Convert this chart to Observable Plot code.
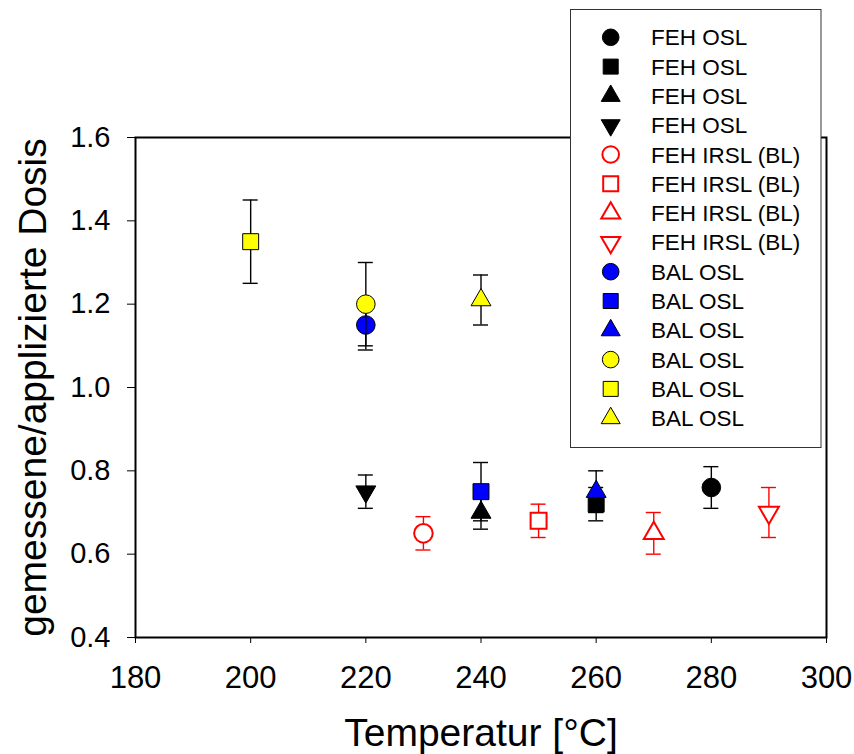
<!DOCTYPE html>
<html><head><meta charset="utf-8">
<script src="https://cdn.jsdelivr.net/npm/d3@7"></script>
<script src="https://cdn.jsdelivr.net/npm/@observablehq/plot@0.6"></script>
<style>
body{margin:0;background:#fff;}
#wrap{position:relative;width:854px;height:754px;font-family:"Liberation Sans",Arial,sans-serif;}
#wrap svg.legend{position:absolute;left:0;top:0;pointer-events:none;}
</style></head><body><div id="wrap"></div>
<script>
const seriesLabels = ["FEH OSL","FEH OSL","FEH OSL","FEH OSL",
  "FEH IRSL (BL)","FEH IRSL (BL)","FEH IRSL (BL)","FEH IRSL (BL)",
  "BAL OSL","BAL OSL","BAL OSL","BAL OSL","BAL OSL","BAL OSL"];
const temperatures = [280, 260, 240, 220, 230, 250, 270, 290, 220, 240, 260, 220, 200, 240];
const doseRatios   = [0.76, 0.72, 0.70, 0.75, 0.65, 0.68, 0.65, 0.70, 1.15, 0.75, 0.75, 1.20, 1.35, 1.21];
const doseErrors   = [0.05, 0.04, 0.04, 0.04, 0.04, 0.04, 0.05, 0.06, 0.06, 0.07, 0.05, 0.10, 0.10, 0.06];
const xTicks = [180, 200, 220, 240, 260, 280, 300];
const yTicks = [0.4, 0.6, 0.8, 1.0, 1.2, 1.4, 1.6];
const xLabel = "Temperatur [°C]";
const yLabel = "gemessene/applizierte Dosis";

// styles
const sqrt3 = Math.sqrt(3);
const symbolTriangleDown = {draw(context, size){
  const y = Math.sqrt(size / (sqrt3 * 3));
  context.moveTo(0, y * 2);
  context.lineTo(-sqrt3 * y, -y);
  context.lineTo(sqrt3 * y, -y);
  context.closePath();
}};
const shapes = [d3.symbolCircle, d3.symbolSquare, d3.symbolTriangle, symbolTriangleDown];
const shapeIndex = [0,1,2,3, 0,1,2,3, 0,1,2, 0,1,2];
const groupIndex = [0,0,0,0, 1,1,1,1, 2,2,2, 3,3,3];
const groupStyles = [
  {fill: "black", stroke: "black", strokeWidth: 1, err: "black"},
  {fill: "white", stroke: "#ff0000", strokeWidth: 2, err: "#ff0000"},
  {fill: "#0000ff", stroke: "black", strokeWidth: 1, err: "black"},
  {fill: "#ffff00", stroke: "black", strokeWidth: 1, err: "black"}
];
const plotRadius = [9.3, 9.0, 7.4, 7.4];
const legendSize = [217, 225, 156, 156];

const rows = seriesLabels.map((label, i) => ({
  label, t: temperatures[i], v: doseRatios[i], e: doseErrors[i],
  lo: doseRatios[i] - doseErrors[i], hi: doseRatios[i] + doseErrors[i],
  shape: shapes[shapeIndex[i]], r: plotRadius[shapeIndex[i]], ls: legendSize[shapeIndex[i]],
  style: groupStyles[groupIndex[i]]
}));

const marks = [Plot.frame({stroke: "black", strokeWidth: 2})];
rows.forEach(row => {
  const d = [row];
  marks.push(
    Plot.ruleX(d, {x: "t", y1: "lo", y2: "hi", stroke: row.style.err, strokeWidth: 1.4}),
    Plot.ruleY(d, {y: "lo", x1: "t", x2: "t", insetLeft: -7.5, insetRight: -7.5, stroke: row.style.err, strokeWidth: 1.4}),
    Plot.ruleY(d, {y: "hi", x1: "t", x2: "t", insetLeft: -7.5, insetRight: -7.5, stroke: row.style.err, strokeWidth: 1.4}),
    Plot.dot(d, {x: "t", y: "v", symbol: row.shape, r: row.r, fill: row.style.fill, stroke: row.style.stroke, strokeWidth: row.style.strokeWidth})
  );
});
marks.push(
  Plot.axisX({ticks: xTicks, tickSize: 6, tickPadding: 22, fontSize: 31, label: null, tickFormat: d3.format("d")}),
  Plot.axisY({ticks: yTicks, tickSize: 8, tickPadding: 17, fontSize: 29, label: null, tickFormat: d3.format(".1f")}),
  Plot.text([xLabel], {text: d => d, frameAnchor: "bottom", textAnchor: "middle", lineAnchor: "bottom", dy: 108, fontSize: 39, fill: "black"}),
  Plot.text([yLabel], {text: d => d, frameAnchor: "left", textAnchor: "middle", lineAnchor: "bottom", rotate: -90, dx: -90, fontSize: 39, fill: "black"})
);

const chart = Plot.plot({
  width: 854, height: 754,
  marginLeft: 135, marginRight: 28, marginTop: 137, marginBottom: 117,
  style: {fontFamily: "'Liberation Sans', Arial, sans-serif", background: "white", color: "black"},
  x: {domain: [180, 300]},
  y: {domain: [0.4, 1.6]},
  marks
});
const wrap = document.getElementById("wrap");
wrap.appendChild(chart);

// legend
const leg = d3.select(wrap).append("svg").attr("class", "legend")
  .attr("width", 854).attr("height", 754);
leg.append("rect").attr("x", 570.5).attr("y", 9.5).attr("width", 250.5).attr("height", 438)
  .attr("fill", "white").attr("stroke", "#333").attr("stroke-width", 1);
rows.forEach((row, i) => {
  const cy = 37.3 + 29.3 * i;
  leg.append("path").attr("d", d3.symbol(row.shape, row.ls)())
    .attr("transform", `translate(610.7,${cy})`)
    .attr("fill", row.style.fill).attr("stroke", row.style.stroke).attr("stroke-width", row.style.strokeWidth);
  leg.append("text").attr("x", 651).attr("y", cy + 8).text(row.label)
    .attr("font-size", 22.5).attr("fill", "black")
    .attr("font-family", "'Liberation Sans', Arial, sans-serif");
});
</script></body></html>
